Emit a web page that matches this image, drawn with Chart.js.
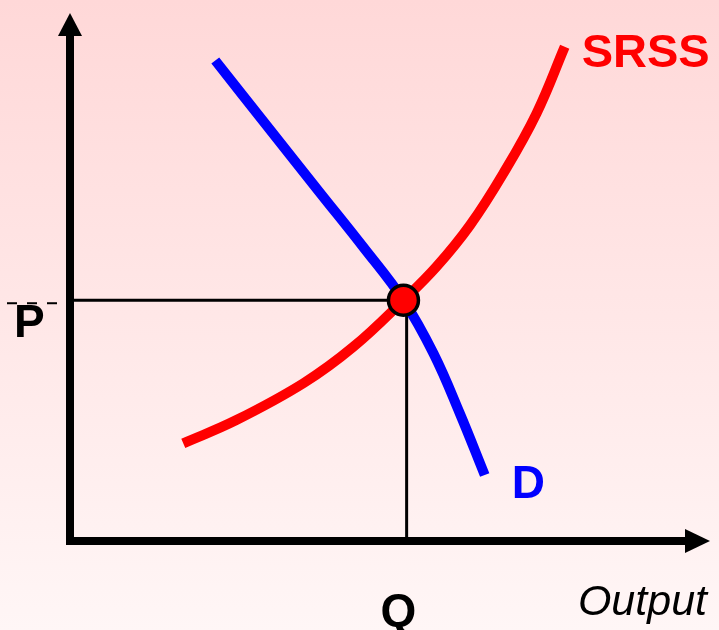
<!DOCTYPE html>
<html>
<head>
<meta charset="utf-8">
<script src="https://cdn.jsdelivr.net/npm/chart.js@4/dist/chart.umd.min.js"></script>
<style>
  html, body { margin: 0; padding: 0; }
  body { background: linear-gradient(#ffd8d8, #fff6f6); width: 719px; height: 630px; overflow: hidden; }
  #wrap { width: 719px; height: 630px; }
</style>
</head>
<body>
<div id="wrap"><canvas id="chart1"></canvas></div>
<script>
// short-run supply (SRSS)
var srssX = [17.7, 26.0, 36.5, 44.3, 52.1, 57.3, 62.5, 67.7, 72.9, 77.3]
var srssY = [18.5, 22.9, 29.9, 36.8, 45.6, 52.0, 59.8, 69.6, 81.0, 93.6]
// demand (D)
var demandX = [22.7, 31.3, 39.1, 45.8, 52.1, 56.8, 60.9, 64.8]
var demandY = [91.0, 77.8, 65.9, 55.7, 45.6, 35.5, 24.2, 12.5]
// equilibrium point and the guide lines
var eqQ = 52.1
var eqP = 45.6
var guideQ = 52.6
var axisMax = 100

function toPoints(xs, ys) {
    var pts = []
    for (let i = 0; i < xs.length; i++) {
        pts.push({ x: xs[i], y: ys[i] })
    }
    return pts
}

const diagramPlugin = {
    id: 'diagram',
    beforeDatasetsDraw(chart) {
        const ctx = chart.ctx
        const x = chart.scales.x, y = chart.scales.y
        var x0 = x.getPixelForValue(0), y0 = y.getPixelForValue(0)
        var px = x.getPixelForValue(eqQ), py = y.getPixelForValue(eqP)
        var gx = x.getPixelForValue(guideQ)
        ctx.save()
        ctx.strokeStyle = '#000'
        ctx.lineWidth = 3
        ctx.beginPath()
        ctx.moveTo(x0, py)
        ctx.lineTo(px, py)
        ctx.moveTo(gx, py)
        ctx.lineTo(gx, y0)
        ctx.stroke()
        // little dashed tick running out to the P label
        ctx.lineWidth = 2
        ctx.setLineDash([10, 10])
        ctx.beginPath()
        ctx.moveTo(7, py + 3)
        ctx.lineTo(x0 - 3, py + 3)
        ctx.stroke()
        ctx.restore()
    },
    afterDraw(chart) {
        const ctx = chart.ctx
        const x = chart.scales.x, y = chart.scales.y
        var x0 = x.getPixelForValue(0), y0 = y.getPixelForValue(0)
        var xEnd = x.getPixelForValue(axisMax), yEnd = y.getPixelForValue(axisMax)
        ctx.save()
        ctx.fillStyle = '#000'
        // axes
        ctx.fillRect(x0 - 4, yEnd + 22, 8, y0 - yEnd - 18)
        ctx.fillRect(x0, y0 - 4, xEnd - x0 - 24, 8)
        ctx.beginPath()
        ctx.moveTo(x0, yEnd)
        ctx.lineTo(x0 - 12, yEnd + 23)
        ctx.lineTo(x0 + 12, yEnd + 23)
        ctx.closePath()
        ctx.fill()
        ctx.beginPath()
        ctx.moveTo(xEnd, y0)
        ctx.lineTo(xEnd - 25, y0 - 12)
        ctx.lineTo(xEnd - 25, y0 + 12)
        ctx.closePath()
        ctx.fill()

        // labels
        var py = y.getPixelForValue(eqP)
        ctx.textBaseline = 'alphabetic'
        ctx.font = 'bold 46px "Liberation Sans", Arial, sans-serif'
        ctx.textAlign = 'left'
        ctx.fillText('P', 14, py + 37)
        ctx.textAlign = 'center'
        ctx.fillText('Q', x.getPixelForValue(eqQ) - 5, y0 + 85)
        ctx.textAlign = 'left'
        ctx.fillStyle = '#0000ff'
        var dLast = demandX.length - 1
        ctx.fillText('D', x.getPixelForValue(demandX[dLast]) + 27, y.getPixelForValue(demandY[dLast]) + 23)
        ctx.fillStyle = '#ff0000'
        ctx.font = 'bold 47px "Liberation Sans", Arial, sans-serif'
        var sLast = srssX.length - 1
        ctx.fillText('SRSS', x.getPixelForValue(srssX[sLast]) + 17, y.getPixelForValue(srssY[sLast]) + 20)
        ctx.fillStyle = '#000'
        ctx.font = 'italic 43px "Liberation Sans", Arial, sans-serif'
        ctx.textAlign = 'right'
        ctx.fillText('Output', xEnd - 3, y0 + 74)
        ctx.restore()
    }
}

window.onload = () => {
    const ctx = document.getElementById("chart1").getContext("2d")
    window.myChart = new Chart(ctx, {
        type: 'scatter',
        data: {
            datasets: [{
                label: 'Equilibrium',
                data: [{ x: eqQ, y: eqP }],
                backgroundColor: '#ff0000',
                borderColor: '#000',
                borderWidth: 3.5,
                pointRadius: 15,
                order: 0
            }, {
                label: 'SRSS',
                data: toPoints(srssX, srssY),
                showLine: true,
                borderColor: '#ff0000',
                borderWidth: 10,
                borderCapStyle: 'butt',
                tension: 0.4,
                pointRadius: 0,
                clip: false,
                order: 1
            }, {
                label: 'D',
                data: toPoints(demandX, demandY),
                showLine: true,
                borderColor: '#0000ff',
                borderWidth: 10,
                borderCapStyle: 'butt',
                tension: 0.4,
                pointRadius: 0,
                clip: false,
                order: 2
            }]
        },
        options: {
            responsive: true,
            maintainAspectRatio: false,
            animation: false,
            layout: { autoPadding: false, padding: { left: 70, right: 9, top: 13, bottom: 89 } },
            scales: {
                x: { type: 'linear', min: 0, max: axisMax, display: false },
                y: { type: 'linear', min: 0, max: axisMax, display: false }
            },
            plugins: {
                legend: { display: false },
                tooltip: { enabled: false }
            }
        },
        plugins: [diagramPlugin]
    })
}
</script>
</body>
</html>
